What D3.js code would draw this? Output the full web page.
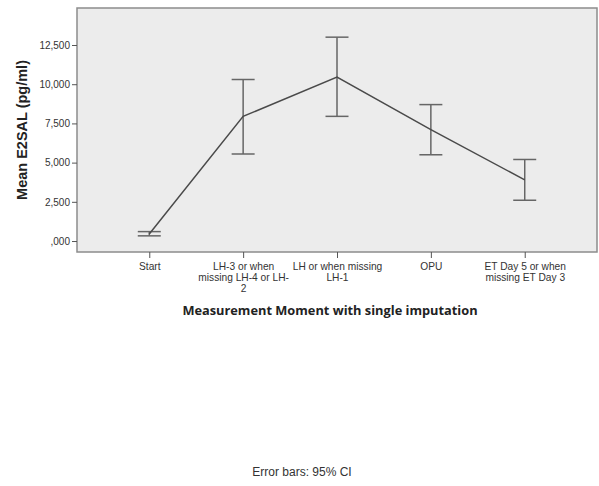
<!DOCTYPE html>
<html>
<head>
<meta charset="utf-8">
<script src="https://cdn.jsdelivr.net/npm/d3@7"></script>
<style>
  body { margin: 0; background: #fff; }
  svg { display: block; }
</style>
</head>
<body>
<svg width="599" height="486"></svg>
<script>
// data
var categories = ["Start", "LH-3", "LH", "OPU", "ET"];
var tickLines = [["Start"],
                 ["LH-3 or when", "missing LH-4 or LH-", "2"],
                 ["LH or when missing", "LH-1"],
                 ["OPU"],
                 ["ET Day 5 or when", "missing ET Day 3"]];
var means = [450, 7950, 10450, 7100, 3900];
var ciLow = [330, 5550, 7950, 5500, 2600];
var ciHigh = [600, 10300, 13000, 8700, 5200];
var yTicks = [0, 2500, 5000, 7500, 10000, 12500];

var plot = {left: 77, right: 597, top: 8, bottom: 252};

var svg = d3.select("svg");

var x = d3.scalePoint()
    .domain(categories)
    .range([plot.left, plot.right])
    .padding(0.77);

var y = d3.scaleLinear()
    .domain([-700, 14860])
    .range([plot.bottom, plot.top]);

var fmt = function(d) {
    var s = d3.format(",")(d);
    return d === 0 ? ",000" : s;
};

// plot background
svg.append("rect")
    .attr("x", plot.left)
    .attr("y", plot.top)
    .attr("width", plot.right - plot.left)
    .attr("height", plot.bottom - plot.top)
    .attr("fill", "#ececec")
    .attr("stroke", "#8c8c8c")
    .attr("stroke-width", 1.5);

// y axis
var yAxis = svg.append("g")
    .attr("transform", "translate(" + plot.left + ",0)")
    .call(d3.axisLeft(y).tickValues(yTicks).tickFormat(fmt).tickSize(5).tickPadding(2));
yAxis.select(".domain").remove();
yAxis.selectAll("line").attr("stroke", "#555");
yAxis.selectAll("text")
    .attr("font-family", "Liberation Sans, Arial, sans-serif")
    .attr("font-size", 10)
    .attr("fill", "#333");

// x axis
var xAxis = svg.append("g")
    .attr("transform", "translate(0," + plot.bottom + ")")
    .call(d3.axisBottom(x).tickSize(6).tickFormat(""));
xAxis.select(".domain").remove();
xAxis.selectAll("line").attr("stroke", "#555");

xAxis.selectAll(".tick").each(function(d, i) {
    var t = d3.select(this).append("text")
        .attr("text-anchor", "middle")
        .attr("font-family", "Liberation Sans, Arial, sans-serif")
        .attr("font-size", 10.2)
        .attr("fill", "#333");
    tickLines[i].forEach(function(line, j) {
        t.append("tspan")
            .attr("x", 0)
            .attr("y", 18 + j * 10.8)
            .text(line);
    });
});

// error bars
var cap = 11.5;
var bars = svg.append("g")
    .attr("stroke", "#666")
    .attr("stroke-width", 1.5)
    .attr("fill", "none");

categories.forEach(function(c, i) {
    var cx = x(c);
    bars.append("line")
        .attr("x1", cx).attr("x2", cx)
        .attr("y1", y(ciLow[i])).attr("y2", y(ciHigh[i]));
    bars.append("line")
        .attr("x1", cx - cap).attr("x2", cx + cap)
        .attr("y1", y(ciLow[i])).attr("y2", y(ciLow[i]));
    bars.append("line")
        .attr("x1", cx - cap).attr("x2", cx + cap)
        .attr("y1", y(ciHigh[i])).attr("y2", y(ciHigh[i]));
});

// mean line
var line = d3.line()
    .x(function(d, i) { return x(categories[i]); })
    .y(function(d) { return y(d); });

svg.append("path")
    .datum(means)
    .attr("d", line)
    .attr("fill", "none")
    .attr("stroke", "#4a4a4a")
    .attr("stroke-width", 1.5);

// titles
svg.append("text")
    .attr("transform", "translate(27," + ((plot.top + plot.bottom) / 2) + ") rotate(-90)")
    .attr("text-anchor", "middle")
    .attr("font-family", "Liberation Sans, Arial, sans-serif")
    .attr("font-weight", "bold")
    .attr("font-size", 14.5)
    .attr("fill", "#222")
    .text("Mean E2SAL (pg/ml)");

svg.append("text")
    .attr("x", 330)
    .attr("y", 315)
    .attr("text-anchor", "middle")
    .attr("font-family", "Open Sans, sans-serif")
    .attr("font-weight", "bold")
    .attr("font-size", 12.8)
    .attr("fill", "#222")
    .text("Measurement Moment with single imputation");

svg.append("text")
    .attr("x", 302)
    .attr("y", 476)
    .attr("text-anchor", "middle")
    .attr("font-family", "Liberation Sans, Arial, sans-serif")
    .attr("font-size", 12)
    .attr("fill", "#333")
    .text("Error bars: 95% CI");
</script>
</body>
</html>
